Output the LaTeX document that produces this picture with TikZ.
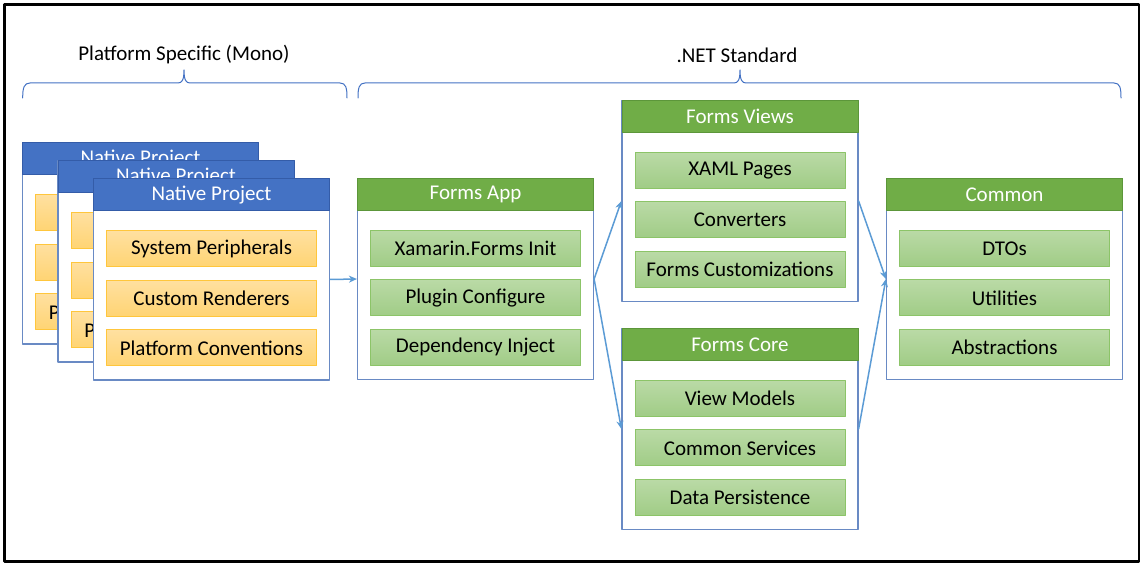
\documentclass[tikz,border=0pt]{standalone}
\usepackage{fontspec}
\setmainfont{Carlito}
\usetikzlibrary{positioning, arrows.meta}
\definecolor{boxline}{RGB}{105,138,196}
\definecolor{nativeblue}{RGB}{68,114,196}
\definecolor{nativeblueline}{RGB}{52,92,168}
\definecolor{formsgreen}{RGB}{112,173,71}
\definecolor{formsgreenline}{RGB}{92,150,58}
\definecolor{orangetop}{RGB}{255,224,160}
\definecolor{orangebot}{RGB}{255,212,115}
\definecolor{orangeline}{RGB}{255,198,60}
\definecolor{greentop}{RGB}{186,218,166}
\definecolor{greenbot}{RGB}{160,204,134}
\definecolor{greenline}{RGB}{140,196,104}
\definecolor{linkblue}{RGB}{91,155,213}
\begin{document}
\begin{tikzpicture}[x=1pt, y=-1pt, line join=round, line cap=round, >={Stealth[length=8pt, width=7pt]},
  font=\fontsize{21}{25}\selectfont,
  body/.style={draw=boxline, line width=1.2pt, fill=white, minimum width=236pt, minimum height=201pt, inner sep=0pt},
  head/.style={line width=1pt, minimum width=236pt, minimum height=32pt, inner sep=0pt, anchor=north, text=white},
  nativehead/.style={head, draw=nativeblueline, fill=nativeblue},
  formshead/.style={head, draw=formsgreenline, fill=formsgreen},
  item/.style={line width=1pt, minimum width=210pt, minimum height=36pt, inner sep=0pt},
  orangeitem/.style={item, draw=orangeline, top color=orangetop, bottom color=orangebot},
  greenitem/.style={item, draw=greenline, top color=greentop, bottom color=greenbot},
  link/.style={->, draw=linkblue, line width=1.5pt},
  bracket/.style={draw=nativeblue, line width=1pt}]
\useasboundingbox (0,0) rectangle (1141,564);
\fill[white] (0,0) rectangle (1141,564);
\draw[line width=2.5pt] (4.5,4.5) rectangle (1139,561.5);

\node (lplat) at (184,55) {Platform Specific (Mono)};
\node (lnet) at (737,55) {.NET Standard};
\draw[bracket] (22.7,98) .. controls (22.7,88) and (24,83) .. (30,83) -- (178,83)
  .. controls (182,83) and (184,80) .. (184,70) .. controls (184,80) and (186,83) .. (190,83)
  -- (340,83) .. controls (346,83) and (347,88) .. (347,98);
\draw[bracket] (358,98) .. controls (358,88) and (359,83) .. (365,83) -- (734,83)
  .. controls (738,83) and (740,80) .. (740,70) .. controls (740,80) and (742,83) .. (746,83)
  -- (1114,83) .. controls (1120,83) and (1121,88) .. (1121,98);

% native projects, back to front
\node[body] (native1) at (140.5,243.5) {};
\node[nativehead] (native1h) at (native1.north) {Native Project};
\node[orangeitem, below=19pt of native1h] (native1a) {System Peripherals};
\node[orangeitem, below=12.5pt of native1a] (native1b) {Custom Renderers};
\node[orangeitem, below=12.5pt of native1b] (native1c) {Platform Conventions};

\node[body] (native2) at (176,261.5) {};
\node[nativehead] (native2h) at (native2.north) {Native Project};
\node[orangeitem, below=19pt of native2h] (native2a) {System Peripherals};
\node[orangeitem, below=12.5pt of native2a] (native2b) {Custom Renderers};
\node[orangeitem, below=12.5pt of native2b] (native2c) {Platform Conventions};

\node[body] (native3) at (211.5,279.5) {};
\node[nativehead] (native3h) at (native3.north) {Native Project};
\node[orangeitem, below=19pt of native3h] (native3a) {System Peripherals};
\node[orangeitem, below=12.5pt of native3a] (native3b) {Custom Renderers};
\node[orangeitem, below=12.5pt of native3b] (native3c) {Platform Conventions};

% forms
\node[body] (app) at (475.5,279) {};
\node[formshead] (apph) at (app.north) {Forms App};
\node[greenitem, below=19pt of apph] (appa) {Xamarin.Forms Init};
\node[greenitem, below=12.5pt of appa] (appb) {Plugin Configure};
\node[greenitem, below=12.5pt of appb] (appc) {Dependency Inject};

\node[body] (views) at (740,201) {};
\node[formshead] (viewsh) at (views.north) {Forms Views};
\node[greenitem, below=19pt of viewsh] (viewsa) {XAML Pages};
\node[greenitem, below=12.5pt of viewsa] (viewsb) {Converters};
\node[greenitem, below=12.5pt of viewsb] (viewsc) {Forms Customizations};

\node[body] (core) at (740,429) {};
\node[formshead] (coreh) at (core.north) {Forms Core};
\node[greenitem, below=19pt of coreh] (corea) {View Models};
\node[greenitem, below=12.5pt of corea] (coreb) {Common Services};
\node[greenitem, below=12.5pt of coreb] (corec) {Data Persistence};

\node[body] (common) at (1004.5,279) {};
\node[formshead] (commonh) at (common.north) {Common};
\node[greenitem, below=19pt of commonh] (commona) {DTOs};
\node[greenitem, below=12.5pt of commona] (commonb) {Utilities};
\node[greenitem, below=12.5pt of commonb] (commonc) {Abstractions};

\draw[link] (native3.east) -- (app.west);
\draw[link] (app.east) -- (views.west);
\draw[link] (app.east) -- (core.west);
\draw[link] (views.east) -- (common.west);
\draw[link] (core.east) -- (common.west);
\end{tikzpicture}
\end{document}
